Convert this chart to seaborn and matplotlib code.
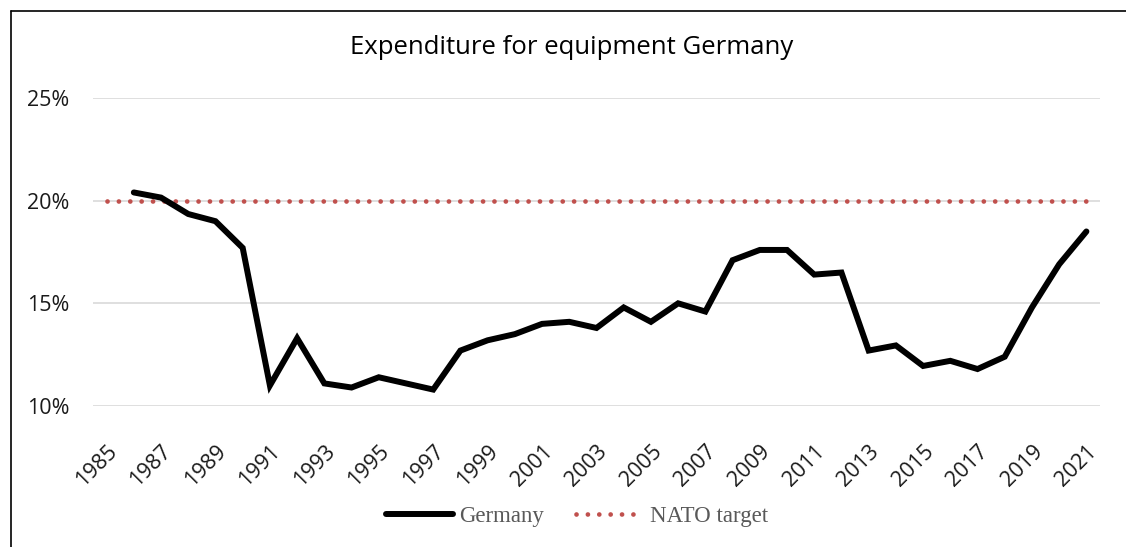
import matplotlib
matplotlib.use("Agg")
import matplotlib.pyplot as plt
import seaborn as sns
import pandas as pd
from matplotlib.lines import Line2D

# ---- data ----
germany_years = list(range(1986, 2022))
germany_pct = [20.4, 20.15, 19.35, 19.0, 17.7, 11.0, 13.3, 11.1, 10.9, 11.4,
               11.1, 10.8, 12.7, 13.2, 13.5, 14.0, 14.1, 13.8, 14.8, 14.1,
               15.0, 14.6, 17.1, 17.6, 17.6, 16.4, 16.5, 12.7, 12.95, 11.95,
               12.2, 11.8, 12.4, 14.8, 16.9, 18.5]
nato_years = list(range(1985, 2022))
nato_pct = [20.0] * len(nato_years)
tick_years = list(range(1985, 2022, 2))
y_ticks = [10, 15, 20, 25]
title = "Expenditure for equipment Germany"

df_de = pd.DataFrame({"year": germany_years, "pct": germany_pct})
df_nato = pd.DataFrame({"year": nato_years, "pct": nato_pct})

sns.set_theme(style="white")
plt.rcParams["font.family"] = ["Open Sans", "DejaVu Sans"]

fig = plt.figure(figsize=(11.26, 5.47), dpi=100)
ax = fig.add_axes([93/1126, 1-406/547, (1100-93)/1126, (406-98)/547])

red = "#C0504D"
sns.lineplot(data=df_nato, x="year", y="pct", ax=ax, color=red, lw=3.4,
             linestyle=(0, (0.01, 2.4)), dash_capstyle="round", zorder=3)
sns.lineplot(data=df_de, x="year", y="pct", ax=ax, color="black", lw=4.3,
             solid_joinstyle="miter", zorder=4)

ax.set_xlim(1984.5, 2021.5)
ax.set_ylim(10, 25)
ax.set_yticks(y_ticks)
ax.set_yticklabels([f"{v}%" for v in y_ticks], fontsize=15.5, color="#1a1a1a")
ax.set_xticks(tick_years)
ax.set_xticklabels([str(y) for y in tick_years], rotation=45, ha="right",
                   rotation_mode="anchor", fontsize=15.5, color="#1a1a1a")
ax.tick_params(axis="x", length=0, pad=25)
ax.tick_params(axis="y", length=0, pad=17)
ax.yaxis.grid(True, color="#D9D9D9", lw=1.2)
ax.xaxis.grid(False)
for s in ax.spines.values():
    s.set_visible(False)
ax.set_xlabel("")
ax.set_ylabel("")

fig.text(572/1126, 1-48/547, title, ha="center", va="center", fontsize=18.5, color="black")

handles = [Line2D([], [], color="black", lw=4.3, solid_capstyle="round"),
           Line2D([], [], color=red, lw=3.4, linestyle=(0, (0.01, 2.4)), dash_capstyle="round")]
leg = fig.legend(handles, ["Germany", "NATO target"], loc="center",
                 bbox_to_anchor=(577/1126, 1-516/547), ncol=2, frameon=False,
                 handlelength=2.9, handletextpad=0.3, columnspacing=1.4,
                 prop={"family": "Liberation Serif", "size": 16.5})
for t in leg.get_texts():
    t.set_color("#595959")

# outer frame (top and left)
fig.add_artist(Line2D([10.5/1126, 10.5/1126], [0, 1-10.5/547], transform=fig.transFigure, color="black", lw=1.2))
fig.add_artist(Line2D([10.5/1126, 1], [1-10.5/547, 1-10.5/547], transform=fig.transFigure, color="black", lw=1.2))

fig.savefig("out.png", dpi=100)
